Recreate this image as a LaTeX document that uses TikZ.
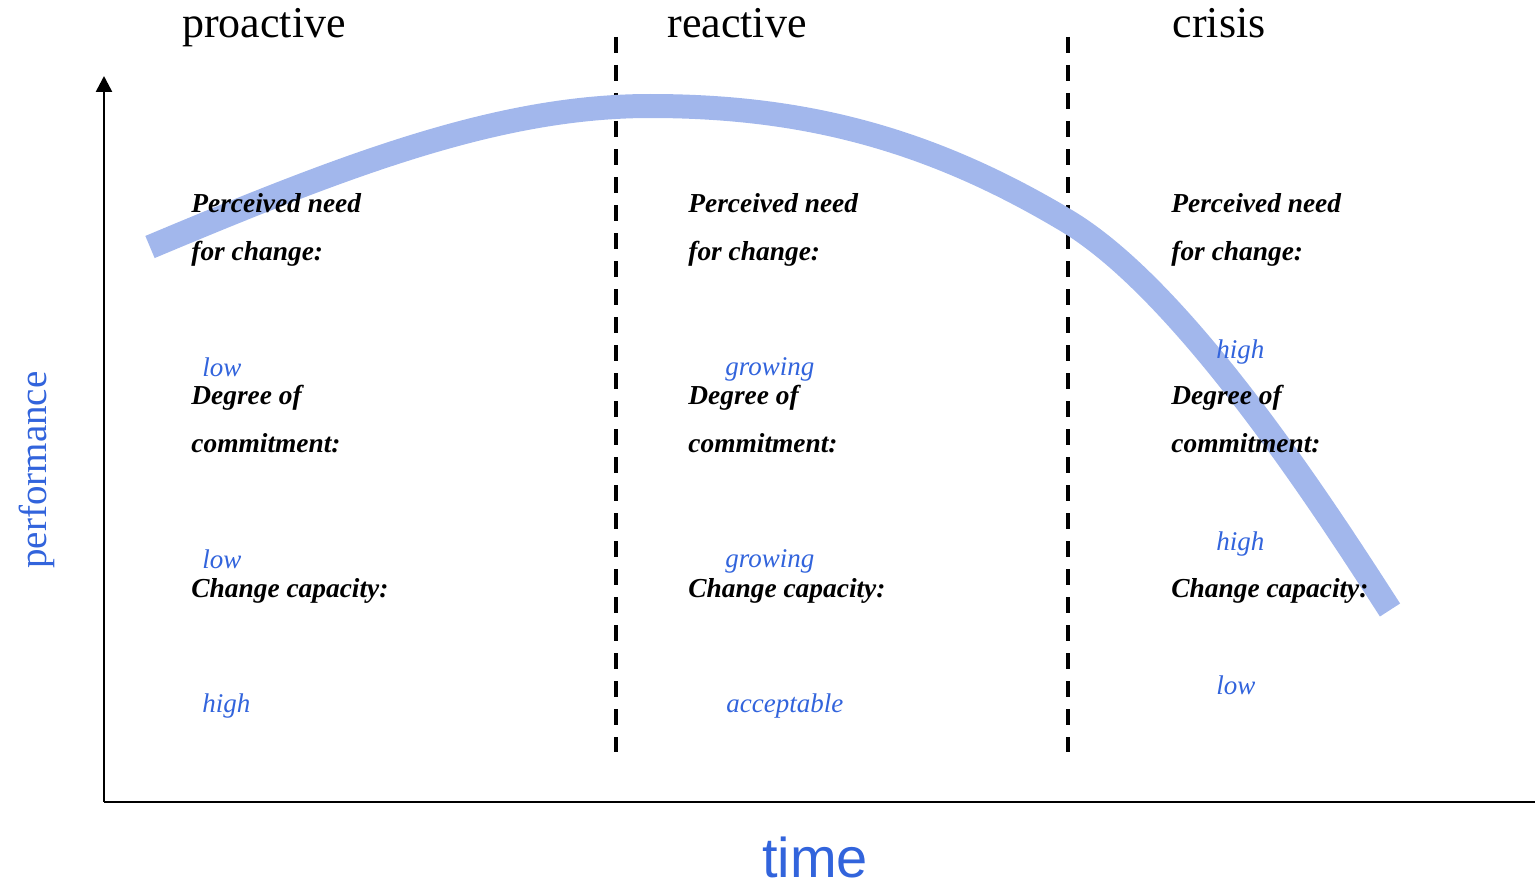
\documentclass[tikz,border=0pt]{standalone}
\usepackage{fontspec}
\setmainfont{Liberation Serif}
\newfontfamily\axisfont{Liberation Sans}
\usetikzlibrary{arrows.meta}

\definecolor{curveblue}{RGB}{162,183,236}
\definecolor{textblue}{RGB}{50,100,220}

\tikzset{
  axis/.style={line width=1.3pt},
  divider/.style={line width=1.6pt, dash pattern=on 8pt off 6pt},
  band/.style={curveblue, line width=12pt},
  phase/.style={anchor=base, inner sep=0pt, font=\fontsize{22}{26}\selectfont},
  % two-line labels: base anchor sits on the last line
  itemtext/.style={anchor=base west, inner sep=0pt, align=left,
    font=\fontsize{13.7}{24}\selectfont\bfseries\itshape},
  valuetext/.style={anchor=base west, inner sep=0pt, text=textblue,
    font=\fontsize{13.5}{16}\selectfont\itshape},
}

\begin{document}
\begin{tikzpicture}[x=0.5pt, y=-0.5pt]
  \useasboundingbox (0,0) rectangle (1535,888);

  % Axes
  \coordinate (origin) at (104,802);
  \coordinate (ytop) at (104,76);
  \coordinate (xend) at (1535,802);
  \draw[axis, -{Triangle[length=8pt, width=8pt]}] (origin) -- (ytop);
  \draw[axis] (origin) -- (xend);

  % Phase borders
  \coordinate (d1top) at (616,37);
  \coordinate (d1bot) at (616,752);
  \coordinate (d2top) at (1068,37);
  \coordinate (d2bot) at (1068,752);
  \draw[divider] (d1top) -- (d1bot);
  \draw[divider] (d2top) -- (d2bot);

  % Performance curve
  \coordinate (cstart) at (150,247);
  \coordinate (cpeak) at (650,106);
  \coordinate (cturn) at (1067,221);
  \coordinate (cend) at (1390,610);
  \draw[band] (cstart) .. controls (350,163) and (500,106) .. (cpeak)
    .. controls (800,106) and (927,137) .. (cturn)
    .. controls (1187,293) and (1330,517) .. (cend);

  % Axis titles
  \node[rotate=90, text=textblue, font=\fontsize{19.5}{22}\selectfont] (perf) at (37,470) {performance};
  \node[text=textblue, font=\axisfont\fontsize{28}{32}\selectfont] (time) at (815,857) {time};

  % Phase headings
  \node[phase] (proactive) at (264,38) {proactive};
  \node[phase] (reactive) at (737,38) {reactive};
  \node[phase] (crisis) at (1219,38) {crisis};

  % Proactive column
  \node[itemtext] (pneed) at (191,260) {Perceived need\\for change:};
  \node[valuetext] (pneedval) at (202,376) {low};
  \node[itemtext] (pcommit) at (191,452) {Degree of\\commitment:};
  \node[valuetext] (pcommitval) at (202,568) {low};
  \node[itemtext] (pcap) at (191,597) {Change capacity:};
  \node[valuetext] (pcapval) at (202,712) {high};

  % Reactive column
  \node[itemtext] (rneed) at (688,260) {Perceived need\\for change:};
  \node[valuetext] (rneedval) at (725,375) {growing};
  \node[itemtext] (rcommit) at (688,452) {Degree of\\commitment:};
  \node[valuetext] (rcommitval) at (725,567) {growing};
  \node[itemtext] (rcap) at (688,597) {Change capacity:};
  \node[valuetext] (rcapval) at (726,712) {acceptable};

  % Crisis column
  \node[itemtext] (cneed) at (1171,260) {Perceived need\\for change:};
  \node[valuetext] (cneedval) at (1216,358) {high};
  \node[itemtext] (ccommit) at (1171,452) {Degree of\\commitment:};
  \node[valuetext] (ccommitval) at (1216,550) {high};
  \node[itemtext] (ccap) at (1171,597) {Change capacity:};
  \node[valuetext] (ccapval) at (1216,694) {low};
\end{tikzpicture}
\end{document}
